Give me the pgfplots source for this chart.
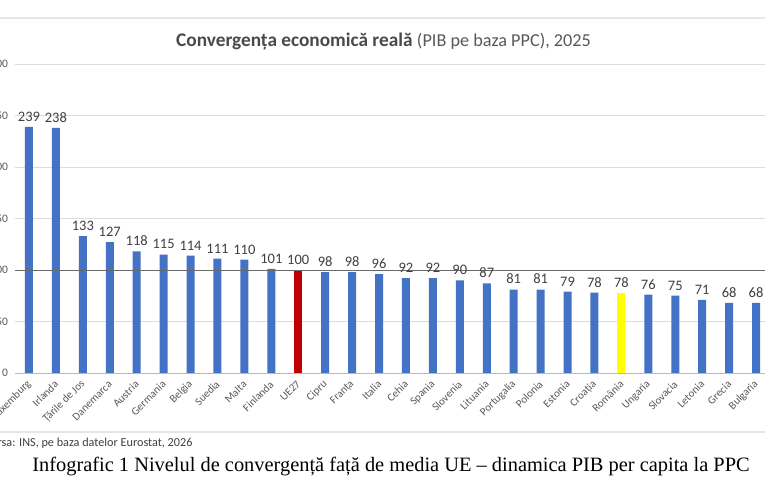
\documentclass[border=0pt]{standalone}
\usepackage{fontspec}
\setmainfont{Carlito}
\newfontfamily\capfont{Liberation Serif}
\usepackage{pgfplots}
\pgfplotsset{compat=1.18}
\definecolor{barblue}{HTML}{4472C4}
\definecolor{barred}{HTML}{C00000}
\definecolor{baryellow}{HTML}{FFFF00}
\definecolor{txtgray}{HTML}{595959}
\definecolor{titlegray}{HTML}{4A4A4A}
\definecolor{lblgray}{HTML}{404040}
\definecolor{gridgray}{HTML}{DCDCDC}
\definecolor{framegray}{HTML}{E6E6E6}
\definecolor{refgray}{HTML}{6A6A6A}

\begin{document}
\begin{tikzpicture}
\useasboundingbox (0pt,0pt) rectangle (765pt,500pt);
\fill[white] (0pt,0pt) rectangle (765pt,500pt);
% chart area frame
\draw[framegray, line width=1.2pt] (0pt,482pt) -- (765pt,482pt);
\draw[framegray, line width=1.2pt] (0pt,68pt) -- (765pt,68pt);
% title
\node[text=titlegray, font=\fontsize{19.3}{22}\selectfont] at (383.5pt,458pt)
  {\textbf{Convergența economică reală} {\color{txtgray}\fontsize{18.2}{21}\selectfont(PIB pe baza PPC), 2025}};

\begin{axis}[
  at={(15.5pt,127pt)}, anchor=south west,
  scale only axis, width=754pt, height=309pt,
  xmin=-0.5, xmax=27.5, ymin=0, ymax=300,
  axis line style={draw=none},
  tick style={draw=none},
  ytick={0,50,...,300},
  ymajorgrids, grid style={gridgray, line width=0.8pt},
  xtick={0,...,27},
  xticklabels={Luxemburg, Irlanda, Țările de Jos, Danemarca, Austria, Germania, Belgia, Suedia, Malta, Finlanda, UE27, Cipru, Franța, Italia, Cehia, Spania, Slovenia, Lituania, Portugalia, Polonia, Estonia, Croația, România, Ungaria, Slovacia, Letonia, Grecia, Bulgaria},
  xticklabel style={rotate=45, anchor=east, font=\fontsize{11}{12}\selectfont, text=txtgray, yshift=-4pt},
  yticklabel style={font=\fontsize{11.5}{13}\selectfont, text=txtgray, xshift=-4pt},
  /pgf/number format/assume math mode=true,
  ybar, bar width=8pt, bar shift=0pt,
  nodes near coords,
  nodes near coords style={font=\fontsize{14.5}{16}\selectfont, text=lblgray, yshift=2pt},
  clip=false,
]
\addplot[fill=barblue, draw=none] coordinates {
  (0,239) (1,238) (2,133) (3,127) (4,118) (5,115) (6,114) (7,111) (8,110) (9,101)
  (11,98) (12,98) (13,96) (14,92) (15,92) (16,90) (17,87) (18,81) (19,81) (20,79) (21,78)
  (23,76) (24,75) (25,71) (26,68) (27,68)
};
\addplot[fill=barred, draw=none] coordinates {(10,100)};
\addplot[fill=baryellow, draw=none] coordinates {(22,78)};
% baseline and EU average reference line
\draw[gray!55, line width=0.8pt] (axis cs:-0.5,0) -- (axis cs:27.5,0);
\draw[refgray, line width=0.8pt] (axis cs:-0.5,100) -- (axis cs:27.5,100);
\end{axis}

\node[anchor=east, font=\fontsize{12.2}{14}\selectfont, text=lblgray] at (196pt,57pt)
  {Sursa: INS, pe baza datelor Eurostat, 2026};
\node[font=\capfont\fontsize{20.4}{23}\selectfont, text=black] at (391pt,33pt)
  {Infografic 1 Nivelul de convergență față de media UE – dinamica PIB per capita la PPC};
\end{tikzpicture}
\end{document}
